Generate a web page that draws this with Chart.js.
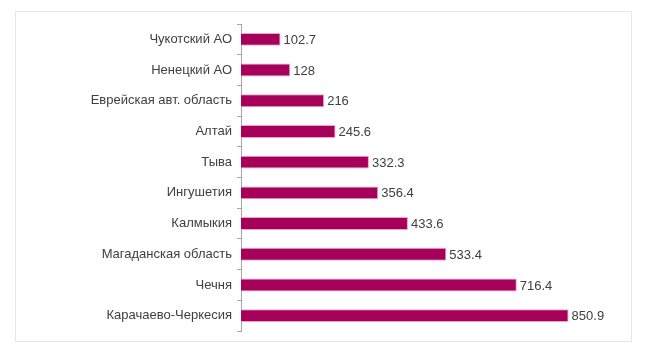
<!DOCTYPE html>
<html>
<head>
<meta charset="utf-8">
<script src="https://cdn.jsdelivr.net/npm/chart.js@4.4.1/dist/chart.umd.min.js"></script>
<style>
  html, body { margin: 0; padding: 0; background: #fff; }
  #wrap { position: relative; width: 650px; height: 352px; }
  #frame { position: absolute; left: 15px; top: 11px; width: 617px; height: 331px; border: 1px solid #e6e6e6; box-sizing: border-box; }
  canvas { position: absolute; left: 0; top: 0; }
</style>
</head>
<body>
<div id="wrap">
  <div id="frame"></div>
  <canvas id="c" width="650" height="352"></canvas>
</div>
<script>
const categories = ["Чукотский АО", "Ненецкий АО", "Еврейская авт. область", "Алтай", "Тыва", "Ингушетия", "Калмыкия", "Магаданская область", "Чечня", "Карачаево-Черкесия"];
const values = [102.7, 128, 216, 245.6, 332.3, 356.4, 433.6, 533.4, 716.4, 850.9];
const valueLabels = ["102.7", "128", "216", "245.6", "332.3", "356.4", "433.6", "533.4", "716.4", "850.9"];

const valueLabelPlugin = {
  id: 'valueLabels',
  afterDatasetsDraw(chart) {
    const ctx = chart.ctx;
    const meta = chart.getDatasetMeta(0);
    ctx.save();
    ctx.font = '13px "Liberation Sans", Arial, sans-serif';
    ctx.fillStyle = '#404040';
    ctx.textAlign = 'left';
    ctx.textBaseline = 'middle';
    meta.data.forEach((bar, i) => {
      ctx.fillText(valueLabels[i], bar.x + 3, bar.y + 1);
    });
    ctx.restore();
  }
};

new Chart(document.getElementById('c'), {
  type: 'bar',
  data: {
    labels: categories,
    datasets: [{
      data: values,
      backgroundColor: '#a6005b',
      borderColor: '#e9a6c8',
      borderWidth: 1,
      barPercentage: 0.84,
      categoryPercentage: 0.5
    }]
  },
  options: {
    indexAxis: 'y',
    responsive: false,
    animation: false,
    devicePixelRatio: 1,
    layout: { padding: { left: 0, right: 24, top: 24, bottom: 21 } },
    plugins: { legend: { display: false }, tooltip: { enabled: false } },
    scales: {
      x: { display: false, min: 0, max: 1000 },
      y: {
        afterFit(scale) { scale.width = 241; },
        grid: { drawOnChartArea: false, tickLength: 4, color: '#a6a6a6', offset: true },
        border: { display: true, color: '#a6a6a6' },
        ticks: {
          padding: 5,
          color: '#404040',
          font: { family: '"Liberation Sans", Arial, sans-serif', size: 13 }
        }
      }
    }
  },
  plugins: [valueLabelPlugin]
});
</script>
</body>
</html>
